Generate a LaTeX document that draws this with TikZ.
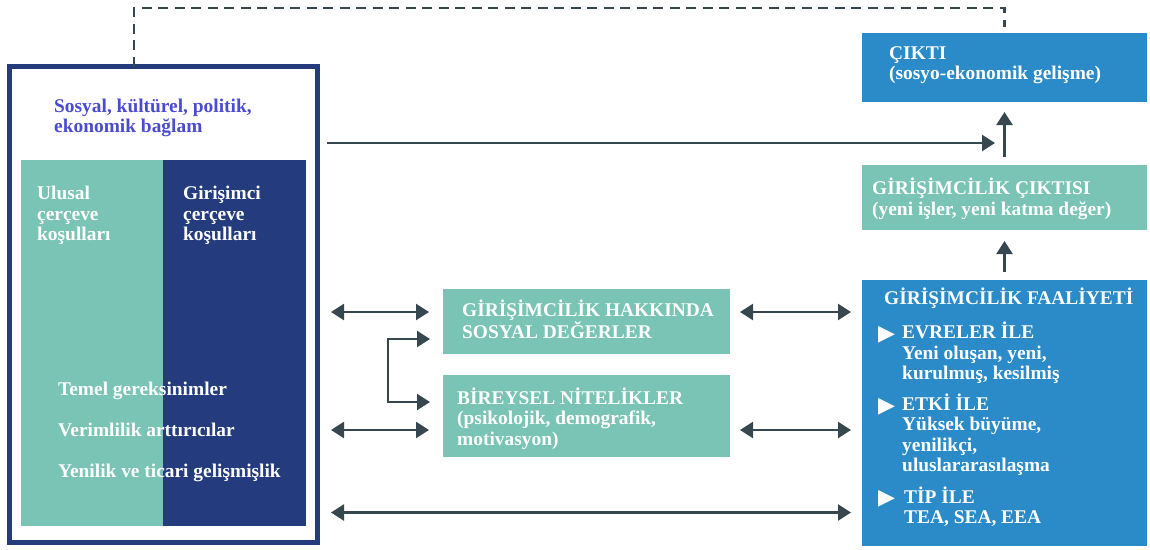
\documentclass[tikz,border=0pt]{standalone}
\usepackage{fontspec}
\setmainfont{Liberation Serif}
\newfontfamily\symfont{DejaVu Sans}
\usetikzlibrary{arrows.meta}
\definecolor{navy}{HTML}{243C7E}
\definecolor{teal}{HTML}{79C4B4}
\definecolor{sky}{HTML}{2A8BC8}
\definecolor{ink}{HTML}{37474F}
\definecolor{ctxblue}{HTML}{4B4BD2}
\begin{document}
\begin{tikzpicture}[x=1pt,y=-1pt,
  font=\bfseries\fontsize{19.4}{20.5}\selectfont,
  box/.style={inner sep=0, outer sep=0, minimum width=#1},
  % multi-line labels are placed by the baseline of their last line
  lbl/.style={anchor=base west, inner sep=0, align=left, text=white},
  arr/.style={draw=ink, line width=2.4pt, -{Triangle[length=13pt,width=16pt]}},
  dbl/.style={draw=ink, line width=2.4pt, {Triangle[length=13pt,width=16pt]}-{Triangle[length=13pt,width=16pt]}},
  bullet/.style={anchor=base west, inner sep=0, text=white, font=\symfont\fontsize{22}{22}\selectfont}]
\useasboundingbox (0,0) rectangle (1150,549);

% left frame: context with the two framework columns
\node[box=308pt, minimum height=476pt, draw=navy, line width=5pt] (frame) at (163.5,304.5) {};
\node[box=142pt, minimum height=366pt, fill=teal] (ncol) at (92,343) {};
\node[box=143pt, minimum height=366pt, fill=navy] (ecol) at (234.5,343) {};
\node[lbl, text=ctxblue] (ctx) at (54,132.5) {Sosyal, kültürel, politik,\\ekonomik bağlam};
\node[lbl] (ntxt) at (37,240.5) {Ulusal\\çerçeve\\koşulları};
\node[lbl] (etxt) at (183,240.5) {Girişimci\\çerçeve\\koşulları};
\node[lbl] (req1) at (58,395.5) {Temel gereksinimler};
\node[lbl] (req2) at (58,436.5) {Verimlilik arttırıcılar};
\node[lbl] (req3) at (58,477) {Yenilik ve ticari gelişmişlik};

% middle boxes
\node[box=287pt, minimum height=65pt, fill=teal] (sdv) at (586.5,321.5) {};
\node[lbl] (sdvt) at (462,338.7) {GİRİŞİMCİLİK HAKKINDA\\SOSYAL DEĞERLER};
\node[box=287pt, minimum height=82pt, fill=teal] (bn) at (586.5,416) {};
\node[lbl] (bnt) at (457,445) {BİREYSEL NİTELİKLER\\(psikolojik, demografik,\\motivasyon)};

% right column
\node[box=285pt, minimum height=69pt, fill=sky] (out) at (1004.5,67.5) {};
\node[lbl] (outt) at (889,79.5) {ÇIKTI\\(sosyo-ekonomik gelişme)};
\node[box=285pt, minimum height=65pt, fill=teal] (eo) at (1004.5,197.5) {};
\node[lbl] (eot) at (872,215) {GİRİŞİMCİLİK ÇIKTISI\\(yeni işler, yeni katma değer)};
\node[box=285pt, minimum height=266pt, fill=sky] (act) at (1004.5,413) {};
\node[lbl] (actt) at (884,304.3) {GİRİŞİMCİLİK FAALİYETİ};
\node[bullet] (b1) at (878,340) {▶};
\node[lbl] (phase) at (902,379.5) {EVRELER İLE\\Yeni oluşan, yeni,\\kurulmuş, kesilmiş};
\node[bullet] (b2) at (878,412.5) {▶};
\node[lbl] (impact) at (902,471.7) {ETKİ İLE\\Yüksek büyüme,\\yenilikçi,\\uluslararasılaşma};
\node[bullet] (b3) at (878,504) {▶};
\node[lbl] (type) at (904,523.5) {TİP İLE\\TEA, SEA, EEA};

% feedback from output back to the context
\draw[ink, line width=2.5pt, dash pattern=on 10pt off 6.5pt]
  ([xshift=-29.5pt]frame.north) -- ++(0,-58.5) -| ([yshift=6pt]out.north);

% connectors
\coordinate (join) at (1005,143);
\draw[arr] ([xshift=9.5pt]frame.east |- join) -- ([xshift=-10pt]join);
\draw[arr] ([yshift=8pt]eo.north) -- ([yshift=-10pt]out.south);
\draw[arr] ([yshift=8pt]act.north) -- ([yshift=-11pt]eo.south);

\draw[dbl] ([xshift=13.5pt,yshift=9.5pt]frame.east |- sdv.west) -- ([xshift=-14pt,yshift=9.5pt]sdv.west);
\draw[dbl] ([xshift=10pt,yshift=9.5pt]sdv.east) -- ([xshift=-11pt,yshift=9.5pt]sdv.east -| act.west);
\draw[dbl] ([xshift=13.5pt,yshift=-14pt]frame.east |- bn.west) -- ([xshift=-14pt,yshift=-14pt]bn.west);
\draw[dbl] ([xshift=10pt,yshift=-14pt]bn.east) -- ([xshift=-11pt,yshift=-14pt]bn.east -| act.west);
\coordinate (low) at (600,512.5);
\draw[dbl] ([xshift=13.5pt]frame.east |- low) -- ([xshift=-11pt]act.west |- low);

% link between the two middle boxes
\draw[dbl] ([xshift=-13pt,yshift=-17.5pt]sdv.west) -| ([xshift=-55pt]bn.west |- 0,402) -- ([xshift=-13pt]bn.west |- 0,402);
\end{tikzpicture}
\end{document}
